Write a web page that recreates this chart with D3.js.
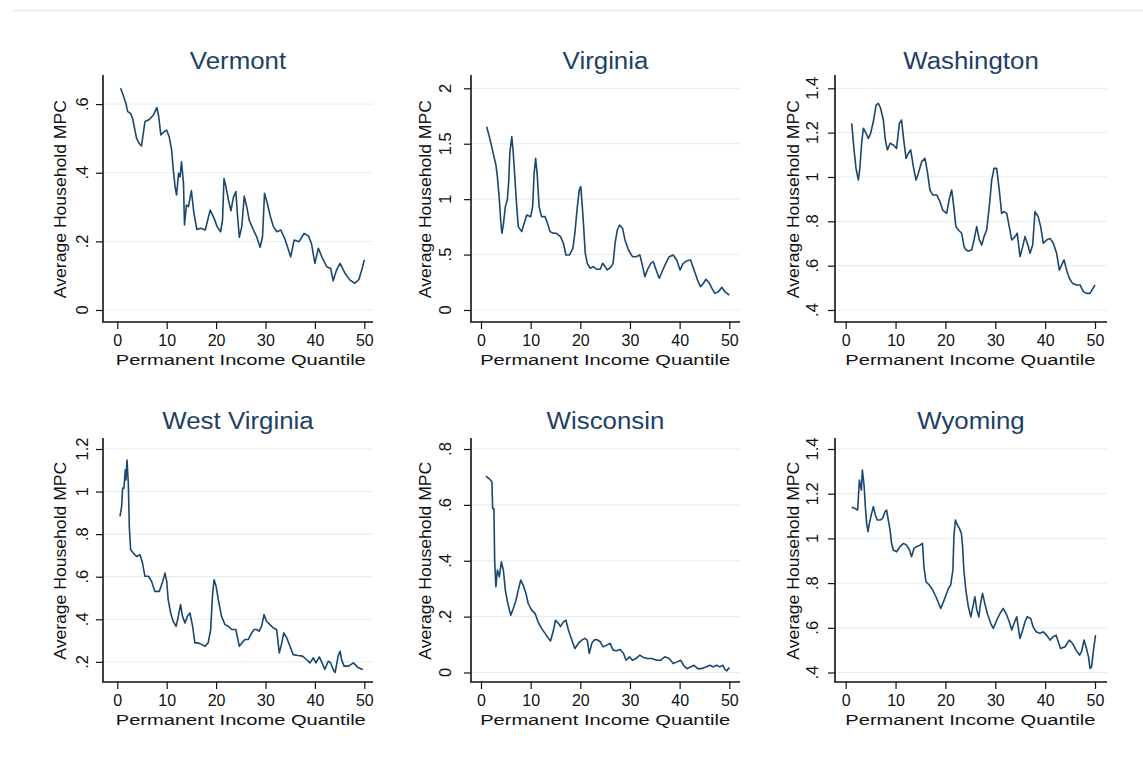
<!DOCTYPE html>
<html lang="en">
<head>
<meta charset="UTF-8">
<title>Average Household MPC by Permanent Income Quantile</title>
<script src="https://cdn.jsdelivr.net/npm/d3@7"></script>
<style>
  body { margin: 0; background: #fff; }
  svg { display: block; font-family: "Liberation Sans", Arial, sans-serif; }
</style>
</head>
<body>
<script>
'use strict';
// ---- data: [quantile, average household MPC] ----
var states = ['Vermont', 'Virginia', 'Washington', 'West Virginia', 'Wisconsin', 'Wyoming'];
var xTicks = [0, 10, 20, 30, 40, 50];
var vermontTicks = [0, .2, .4, .6];
var virginiaTicks = [0, .5, 1, 1.5, 2];
var washingtonTicks = [.4, .6, .8, 1, 1.2, 1.4];
var westVirginiaTicks = [.2, .4, .6, .8, 1, 1.2];
var wisconsinTicks = [0, .2, .4, .6, .8];
var wyomingTicks = [.4, .6, .8, 1, 1.2, 1.4];

var vermont = [[.67,.646],[1.2,.626],[1.75,.602],[2.1,.578],[2.7,.573],[3.1,.558],[3.9,.500],[4.45,.485],[4.9,.478],
  [5.6,.549],[6.5,.555],[7.3,.568],[8.0,.590],[8.4,.563],[8.8,.510],[9.45,.519],[10.0,.524],[10.5,.505],[11.0,.466],
  [11.3,.413],[11.7,.359],[12.0,.335],[12.4,.398],[12.7,.388],[13.0,.432],[13.4,.369],[13.6,.248],[14.0,.306],[14.4,.301],
  [15.0,.348],[15.5,.282],[16.1,.235],[16.9,.238],[17.8,.233],[18.8,.291],[19.6,.267],[20.2,.243],[20.9,.228],[21.3,.262],
  [21.6,.383],[22.0,.359],[22.5,.320],[23.0,.289],[23.5,.328],[24.0,.345],[24.3,.282],[24.7,.212],[25.2,.243],[25.7,.332],
  [26.2,.301],[26.7,.262],[27.5,.235],[28.2,.214],[28.9,.183],[29.4,.214],[29.8,.340],[30.4,.309],[31.0,.272],[31.6,.243],
  [32.3,.228],[33.1,.233],[34.0,.204],[35.1,.155],[35.8,.204],[36.8,.199],[37.8,.223],[38.7,.216],[39.3,.194],[40.0,.136],
  [40.7,.180],[41.4,.155],[42.4,.126],[43.2,.121],[43.7,.085],[44.4,.117],[45.1,.136],[46.1,.107],[47.1,.087],[48.1,.078],
  [48.9,.089],[49.5,.117],[50.0,.146]];

var virginia = [[1.14,1.654],[1.68,1.564],[2.15,1.474],[2.6,1.383],[3.0,1.308],[3.3,1.203],[3.7,.992],[3.96,.812],[4.2,.692],
  [4.5,.767],[4.9,.932],[5.3,.992],[5.6,1.173],[5.8,1.414],[6.2,1.564],[6.5,1.414],[6.85,1.173],[7.2,.932],[7.5,.752],
  [8.2,.707],[8.7,.782],[9.2,.857],[10.0,.842],[10.4,.932],[10.7,1.233],[11.0,1.368],[11.3,1.233],[11.7,.932],[12.2,.842],
  [12.9,.842],[13.4,.782],[13.9,.707],[14.6,.692],[15.2,.692],[16.0,.662],[16.6,.602],[17.1,.496],[17.8,.496],[18.5,.556],
  [18.9,.692],[19.4,.932],[19.8,1.083],[20.1,1.113],[20.5,.872],[21.0,.511],[21.4,.421],[22.0,.376],[22.6,.391],[23.3,.367],
  [24.0,.367],[24.5,.421],[25.0,.391],[25.4,.361],[26.1,.385],[26.6,.421],[27.0,.602],[27.45,.722],[27.9,.767],[28.5,.737],
  [29.0,.632],[29.7,.541],[30.5,.481],[31.2,.481],[32.0,.496],[32.55,.391],[33.0,.301],[33.5,.361],[34.2,.421],[34.7,.436],
  [35.4,.346],[35.9,.286],[36.6,.361],[37.2,.421],[37.9,.481],[38.7,.496],[39.4,.451],[40.1,.361],[40.7,.421],[41.5,.445],
  [42.2,.451],[42.9,.361],[43.6,.271],[44.2,.211],[44.8,.241],[45.3,.277],[46.0,.241],[46.5,.195],[47.1,.150],[47.8,.165],
  [48.5,.205],[49.1,.165],[50.0,.135]];

var washington = [[1.2,1.242],[1.67,1.122],[2.07,1.039],[2.54,.986],[2.87,1.047],[3.2,1.152],[3.54,1.220],[4.08,1.197],
  [4.55,1.174],[5.0,1.197],[5.55,1.250],[6.1,1.325],[6.55,1.332],[7.0,1.310],[7.55,1.257],[7.95,1.167],[8.36,1.122],
  [8.9,1.152],[9.56,1.144],[10.2,1.129],[10.76,1.242],[11.2,1.257],[11.56,1.182],[12.1,1.084],[12.57,1.107],[13.03,1.122],
  [13.57,1.047],[14.1,.986],[14.57,1.017],[15.24,1.069],[15.9,1.084],[16.38,1.024],[16.9,.941],[17.45,.919],[18.25,.919],
  [18.9,.889],[19.45,.851],[20.25,.836],[20.8,.904],[21.26,.941],[21.6,.881],[22.1,.776],[22.6,.761],[23.26,.746],
  [23.73,.686],[24.13,.671],[24.6,.666],[25.27,.671],[25.74,.716],[26.27,.776],[26.8,.716],[27.3,.693],[27.74,.731],
  [28.28,.761],[28.8,.866],[29.28,.986],[29.75,1.039],[30.28,1.039],[30.8,.941],[31.28,.836],[31.75,.844],[32.3,.836],
  [32.8,.776],[33.3,.716],[33.96,.731],[34.4,.746],[34.96,.641],[35.5,.686],[35.96,.731],[36.63,.686],[36.97,.656],
  [37.5,.693],[37.97,.844],[38.6,.821],[39.1,.776],[39.64,.701],[40.3,.716],[40.98,.723],[41.64,.701],[42.3,.656],
  [42.85,.580],[43.3,.603],[43.8,.626],[44.3,.580],[44.85,.543],[45.5,.520],[46.3,.513],[47.0,.513],[47.66,.483],
  [48.33,.475],[49.0,.475],[50.0,.513]];

var westVirginia = [[.54,.883],[.88,.930],[1.08,1.016],[1.35,1.016],[1.62,1.102],[1.75,1.055],[1.96,1.148],[2.23,1.039],
  [2.43,.836],[2.7,.727],[3.24,.711],[3.9,.695],[4.6,.703],[5.1,.664],[5.6,.602],[6.3,.602],[6.95,.578],[7.6,.531],
  [8.5,.531],[9.2,.578],[9.65,.617],[10.0,.578],[10.3,.492],[10.8,.430],[11.3,.391],[11.9,.367],[12.35,.414],[12.8,.469],
  [13.2,.414],[13.7,.383],[14.2,.414],[14.7,.430],[15.25,.367],[15.7,.289],[16.4,.289],[17.1,.281],[17.75,.273],[18.4,.289],
  [18.9,.352],[19.3,.523],[19.6,.586],[20.0,.555],[20.45,.492],[21.1,.414],[21.8,.375],[22.5,.367],[23.15,.352],[24.0,.352],
  [24.7,.273],[25.2,.289],[25.85,.305],[26.5,.305],[27.2,.336],[27.7,.352],[28.2,.352],[28.7,.344],[29.2,.367],[29.7,.422],
  [30.2,.391],[30.9,.375],[31.6,.359],[32.25,.352],[32.8,.242],[33.3,.289],[33.7,.336],[34.3,.313],[34.95,.273],[35.6,.234],
  [36.6,.230],[37.5,.227],[38.3,.211],[39.0,.195],[39.7,.219],[40.2,.195],[40.9,.223],[41.6,.188],[42.0,.164],[42.7,.203],
  [43.2,.195],[43.7,.164],[44.1,.150],[44.7,.227],[45.1,.250],[45.4,.211],[45.9,.180],[46.8,.180],[47.8,.195],[48.8,.172],
  [49.7,.164]];

var wisconsin = [[1.0,.703],[1.8,.691],[2.2,.683],[2.35,.587],[2.6,.587],[2.75,.402],[3.0,.307],[3.3,.367],[3.7,.343],
  [4.1,.396],[4.5,.367],[4.9,.295],[5.4,.247],[6.0,.205],[6.5,.229],[7.05,.259],[7.5,.295],[8.0,.331],[8.5,.313],[9.05,.283],
  [9.5,.247],[10.2,.223],[10.9,.211],[11.5,.181],[12.2,.158],[12.9,.140],[13.6,.122],[14.0,.113],[14.6,.152],[15.0,.187],
  [15.6,.176],[16.0,.164],[16.6,.181],[17.1,.187],[17.6,.152],[18.3,.116],[18.9,.086],[19.6,.104],[20.3,.116],[20.9,.122],
  [21.4,.116],[21.8,.068],[22.3,.104],[22.75,.116],[23.3,.118],[24.0,.110],[24.6,.092],[25.3,.098],[26.0,.104],[26.6,.080],
  [27.3,.078],[28.0,.082],[28.7,.068],[29.2,.044],[29.9,.056],[30.5,.044],[31.2,.050],[32.0,.062],[32.7,.054],[33.5,.050],
  [34.4,.050],[35.4,.044],[36.2,.044],[37.0,.056],[37.9,.050],[38.7,.032],[39.5,.038],[40.2,.044],[40.9,.023],[41.5,.014],
  [42.2,.020],[42.9,.026],[43.6,.014],[44.4,.014],[45.3,.020],[46.1,.026],[46.8,.020],[47.45,.026],[48.1,.020],[48.7,.026],
  [49.1,.011],[49.5,.006],[50.0,.018]];

var wyoming = [[1.2,1.139],[1.87,1.134],[2.4,1.127],[2.74,1.261],[3.14,1.216],[3.34,1.306],[3.68,1.239],[3.94,1.142],
  [4.2,1.067],[4.48,1.030],[4.75,1.067],[5.2,1.112],[5.55,1.142],[5.95,1.104],[6.35,1.082],[6.9,1.082],[7.4,1.090],
  [7.9,1.119],[8.2,1.127],[8.55,1.082],[8.9,1.037],[9.2,.978],[9.55,.948],[10.2,.940],[10.9,.963],[11.6,.978],[12.2,.970],
  [12.8,.948],[13.2,.918],[13.7,.955],[14.2,.963],[14.9,.970],[15.4,.978],[15.7,.873],[16.1,.806],[16.8,.791],[17.45,.769],
  [18.1,.739],[18.65,.709],[19.05,.687],[19.6,.716],[20.1,.746],[20.6,.776],[21.05,.791],[21.5,.858],[21.7,1.007],
  [22.0,1.082],[22.4,1.060],[22.8,1.045],[23.2,1.022],[23.45,.963],[23.7,.858],[24.1,.769],[24.6,.694],[25.1,.649],
  [25.5,.694],[25.9,.739],[26.3,.679],[26.7,.649],[27.05,.709],[27.45,.754],[27.9,.709],[28.4,.664],[29.1,.619],[29.6,.597],
  [30.3,.634],[30.95,.664],[31.6,.687],[32.3,.657],[32.8,.627],[33.3,.590],[33.75,.619],[34.3,.649],[34.6,.604],[34.96,.552],
  [35.5,.590],[35.96,.627],[36.4,.649],[37.1,.642],[37.6,.604],[38.2,.582],[39.0,.575],[39.6,.582],[40.3,.567],[41.0,.545],
  [41.6,.560],[42.2,.567],[42.65,.537],[43.1,.507],[44.0,.515],[44.85,.545],[45.5,.530],[46.2,.500],[46.9,.478],[47.3,.493],
  [47.8,.545],[48.2,.515],[48.7,.470],[49.0,.418],[49.3,.425],[49.7,.500],[50.1,.567]];

var series = [vermont, virginia, washington, westVirginia, wisconsin, wyoming];
var yTicks = [vermontTicks, virginiaTicks, washingtonTicks, westVirginiaTicks, wisconsinTicks, wyomingTicks];

// ---- layout (pixels) ----
var w = 1143, h = 762;
var cols = [
    { axis: 103, x0: 117.3, x50: 364.3, right: 373, tickLab: 88, yTitle: 66 },
    { axis: 471, x0: 481, x50: 729.3, right: 740, tickLab: 451, yTitle: 431 },
    { axis: 835, x0: 845.7, x50: 1095, right: 1107, tickLab: 818, yTitle: 799 }
];
var rows = [
    { top: 75, bottom: 322, yLo: 310, yHi: 88.3, title: 69, xTitle: 364.5 },
    { top: 438, bottom: 682, yLo: 672.5, yHi: 449, title: 429, xTitle: 724.5 }
];
var lineColor = '#1a476f',
    titleColor = '#1e3f66',
    gridColor = '#e4edf0';

var fmt = function(t) {
    return String(+t.toFixed(2)).replace(/^0\./, '.');
};

var svg = d3.select('body')
    .append('svg')
    .attr('width', w)
    .attr('height', h);

// faint rule along the top
svg.append('line')
    .attr('x1', 11).attr('x2', w)
    .attr('y1', 10.5).attr('y2', 10.5)
    .attr('stroke', '#edf2f2')
    .attr('stroke-width', 2);

states.forEach(function(name, i) {
    var c = cols[i % 3],
        r = rows[Math.floor(i / 3)],
        data = series[i],
        ticks = yTicks[i];

    var x = d3.scaleLinear().domain([0, 50]).range([c.x0, c.x50]);
    var y = d3.scaleLinear()
        .domain(d3.extent(data.map(function(d) { return d[1]; }).concat(ticks)))
        .range([r.yLo, r.yHi]);

    var g = svg.append('g');

    // gridlines
    g.selectAll('line.grid')
        .data(ticks)
        .enter()
        .append('line')
        .attr('class', 'grid')
        .attr('x1', c.axis).attr('x2', c.right)
        .attr('y1', function(t) { return y(t); })
        .attr('y2', function(t) { return y(t); })
        .attr('stroke', gridColor)
        .attr('stroke-width', 1);

    // y axis: ticks from d3, labels rotated like Stata
    var yAxis = g.append('g')
        .attr('transform', 'translate(' + c.axis + ',0)')
        .call(d3.axisLeft(y).tickValues(ticks).tickSize(7).tickSizeOuter(0).tickFormat(''));
    yAxis.select('.domain').remove();
    yAxis.selectAll('line').attr('stroke', '#111').attr('stroke-width', 1.2);

    g.selectAll('text.ylab')
        .data(ticks)
        .enter()
        .append('text')
        .attr('class', 'ylab')
        .attr('transform', function(t) { return 'translate(' + c.tickLab + ',' + y(t) + ') rotate(-90)'; })
        .attr('text-anchor', 'middle')
        .attr('font-size', '16.5px')
        .attr('fill', '#111')
        .text(fmt);

    g.append('line')
        .attr('x1', c.axis).attr('x2', c.axis)
        .attr('y1', r.top).attr('y2', r.bottom)
        .attr('stroke', '#111').attr('stroke-width', 1.6);

    // x axis
    var xAxis = g.append('g')
        .attr('transform', 'translate(0,' + r.bottom + ')')
        .call(d3.axisBottom(x).tickValues(xTicks).tickSize(7).tickSizeOuter(0).tickPadding(6));
    xAxis.select('.domain').remove();
    xAxis.selectAll('line').attr('stroke', '#111').attr('stroke-width', 1.2);
    xAxis.selectAll('text')
        .attr('font-size', '16px')
        .attr('font-family', '"Liberation Sans", Arial, sans-serif')
        .attr('fill', '#111');

    g.append('line')
        .attr('x1', c.axis - 0.8).attr('x2', c.right)
        .attr('y1', r.bottom).attr('y2', r.bottom)
        .attr('stroke', '#111').attr('stroke-width', 1.6);

    // the series
    g.append('path')
        .datum(data)
        .attr('fill', 'none')
        .attr('stroke', lineColor)
        .attr('stroke-width', 1.6)
        .attr('stroke-linejoin', 'round')
        .attr('d', d3.line()
            .x(function(d) { return x(d[0]); })
            .y(function(d) { return y(d[1]); }));

    // panel title
    var t = g.append('text')
        .attr('x', (c.axis + c.right) / 2)
        .attr('y', r.title)
        .attr('text-anchor', 'middle')
        .attr('font-size', '23.5px')
        .attr('fill', titleColor)
        .text(name);
    t.attr('textLength', t.node().getComputedTextLength() * 1.1)
        .attr('lengthAdjust', 'spacingAndGlyphs');

    // axis titles
    g.append('text')
        .attr('x', (c.x0 + c.x50) / 2)
        .attr('y', r.xTitle)
        .attr('text-anchor', 'middle')
        .attr('font-size', '15.5px')
        .attr('fill', '#111')
        .attr('textLength', 250)
        .attr('lengthAdjust', 'spacingAndGlyphs')
        .text('Permanent Income Quantile');

    g.append('text')
        .attr('transform', 'translate(' + c.yTitle + ',' + (r.yLo + r.yHi) / 2 + ') rotate(-90)')
        .attr('text-anchor', 'middle')
        .attr('font-size', '17px')
        .attr('fill', '#111')
        .attr('textLength', 198)
        .attr('lengthAdjust', 'spacingAndGlyphs')
        .text('Average Household MPC');
});
</script>
</body>
</html>
